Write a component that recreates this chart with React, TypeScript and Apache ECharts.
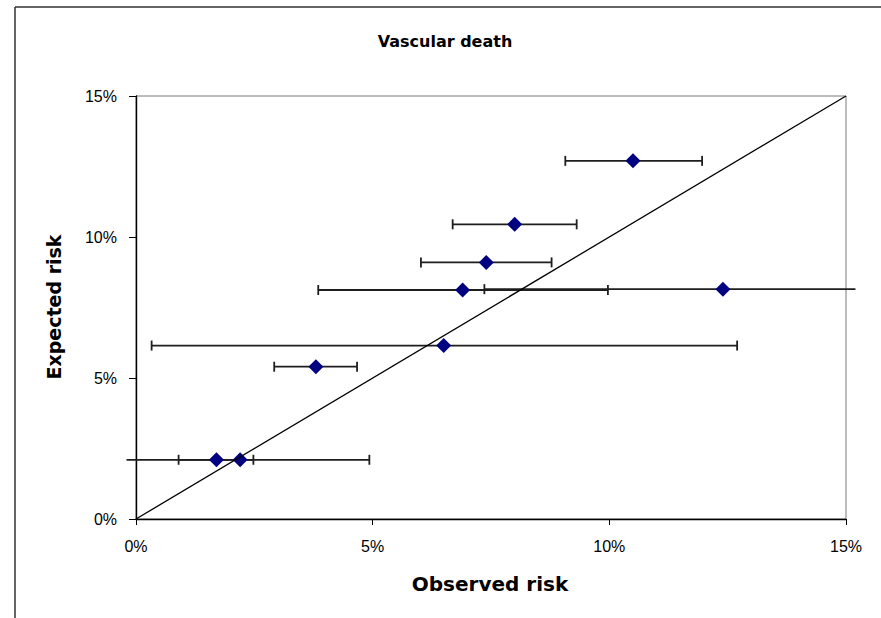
import React, { useEffect, useRef } from "react";
import * as echarts from "echarts";

// Observed vs expected risk (%) per group, with horizontal confidence limits on observed risk
const observed = [1.7, 2.2, 3.8, 6.5, 6.9, 12.4, 7.4, 8.0, 10.5];
const expected = [2.1, 2.1, 5.4, 6.15, 8.12, 8.15, 9.1, 10.45, 12.7];
const ciLow = [0.9, -0.2, 2.92, 0.33, 3.85, 7.36, 6.02, 6.69, 9.07];
const ciHigh = [2.48, 4.93, 4.67, 12.7, 9.97, 15.2, 8.78, 9.31, 11.96];

// Line of perfect agreement
const identityLine = [
  [0, 0],
  [15, 15],
];
const axisTicks = [0, 5, 10, 15];

const AXIS_MIN = axisTicks[0];
const AXIS_MAX = axisTicks[axisTicks.length - 1];

const TICK_FONT = "'Liberation Sans', Arial, sans-serif";
const LABEL_FONT = "'DejaVu Sans', 'Liberation Sans', Arial, sans-serif";

export default function App() {
  const ref = useRef<HTMLDivElement>(null);

  useEffect(() => {
    if (!ref.current) return;
    const chart = echarts.init(ref.current, undefined, { renderer: "svg" });

    const errorData = observed.map((_, i) => [ciLow[i], ciHigh[i], expected[i]]);
    const points = observed.map((x, i) => [x, expected[i]]);

    chart.setOption({
      animation: false,
      backgroundColor: "#ffffff",
      grid: {
        left: 136,
        right: 35,
        top: 96,
        bottom: 99,
        show: true,
        borderColor: "#7a7a7a",
        borderWidth: 1,
        backgroundColor: "transparent",
      },
      xAxis: {
        type: "value",
        min: AXIS_MIN,
        max: AXIS_MAX,
        interval: 5,
        axisLine: { show: true, onZero: false, lineStyle: { color: "#000", width: 1.4 } },
        axisTick: { show: true, inside: false, length: 6, lineStyle: { color: "#000", width: 1 } },
        splitLine: { show: false },
        axisLabel: {
          formatter: "{value}%",
          color: "#000",
          fontSize: 16,
          fontFamily: TICK_FONT,
          margin: 19,
        },
      },
      yAxis: {
        type: "value",
        min: AXIS_MIN,
        max: AXIS_MAX,
        interval: 5,
        axisLine: { show: true, onZero: false, lineStyle: { color: "#000", width: 1.4 } },
        axisTick: { show: true, inside: false, length: 7, lineStyle: { color: "#000", width: 1 } },
        splitLine: { show: false },
        axisLabel: {
          formatter: "{value}%",
          color: "#000",
          fontSize: 16,
          fontFamily: TICK_FONT,
          margin: 19,
        },
      },
      graphic: [
        {
          type: "line",
          shape: { x1: 15, y1: 7, x2: 881, y2: 7 },
          style: { stroke: "#333", lineWidth: 1.5 },
        },
        {
          type: "line",
          shape: { x1: 15, y1: 7, x2: 15, y2: 618 },
          style: { stroke: "#333", lineWidth: 1.5 },
        },
        {
          type: "text",
          x: 445,
          y: 41,
          style: {
            text: "Vascular death",
            fontFamily: LABEL_FONT,
            fontWeight: "bold",
            fontSize: 16,
            fill: "#000",
            textAlign: "center",
            textVerticalAlign: "middle",
          },
        },
        {
          type: "text",
          x: 490,
          y: 584,
          style: {
            text: "Observed risk",
            fontFamily: LABEL_FONT,
            fontWeight: "bold",
            fontSize: 20,
            fill: "#000",
            textAlign: "center",
            textVerticalAlign: "middle",
          },
        },
        {
          type: "text",
          x: 54,
          y: 307,
          rotation: Math.PI / 2,
          style: {
            text: "Expected risk",
            fontFamily: LABEL_FONT,
            fontWeight: "bold",
            fontSize: 19,
            fill: "#000",
            textAlign: "center",
            textVerticalAlign: "middle",
          },
        },
      ],
      series: [
        {
          type: "custom",
          name: "CI",
          clip: false,
          z: 1,
          data: errorData,
          encode: { x: [0, 1], y: 2 },
          renderItem: (_params: any, api: any) => {
            const lo = api.value(0);
            const hi = api.value(1);
            const yv = api.value(2);
            const p1 = api.coord([lo, yv]);
            const p2 = api.coord([hi, yv]);
            const style = { stroke: "#1e1e1e", lineWidth: 1.8 };
            const cap = 5;
            const children: any[] = [
              { type: "line", shape: { x1: p1[0], y1: p1[1], x2: p2[0], y2: p2[1] }, style },
            ];
            if (lo >= AXIS_MIN && lo <= AXIS_MAX) {
              children.push({
                type: "line",
                shape: { x1: p1[0], y1: p1[1] - cap, x2: p1[0], y2: p1[1] + cap },
                style,
              });
            }
            if (hi >= AXIS_MIN && hi <= AXIS_MAX) {
              children.push({
                type: "line",
                shape: { x1: p2[0], y1: p2[1] - cap, x2: p2[0], y2: p2[1] + cap },
                style,
              });
            }
            return { type: "group", children };
          },
        },
        {
          type: "scatter",
          name: "Risk",
          z: 2,
          symbol: "diamond",
          symbolSize: [15, 15],
          itemStyle: { color: "#000080", opacity: 1 },
          data: points,
        },
        {
          type: "line",
          name: "Identity",
          z: 3,
          symbol: "none",
          lineStyle: { color: "#000", width: 1.3 },
          data: identityLine,
        },
      ],
    });

    return () => chart.dispose();
  }, []);

  return (
    <div
      ref={ref}
      style={{ position: "fixed", left: 0, top: 0, width: 881, height: 618, background: "#fff" }}
    />
  );
}
